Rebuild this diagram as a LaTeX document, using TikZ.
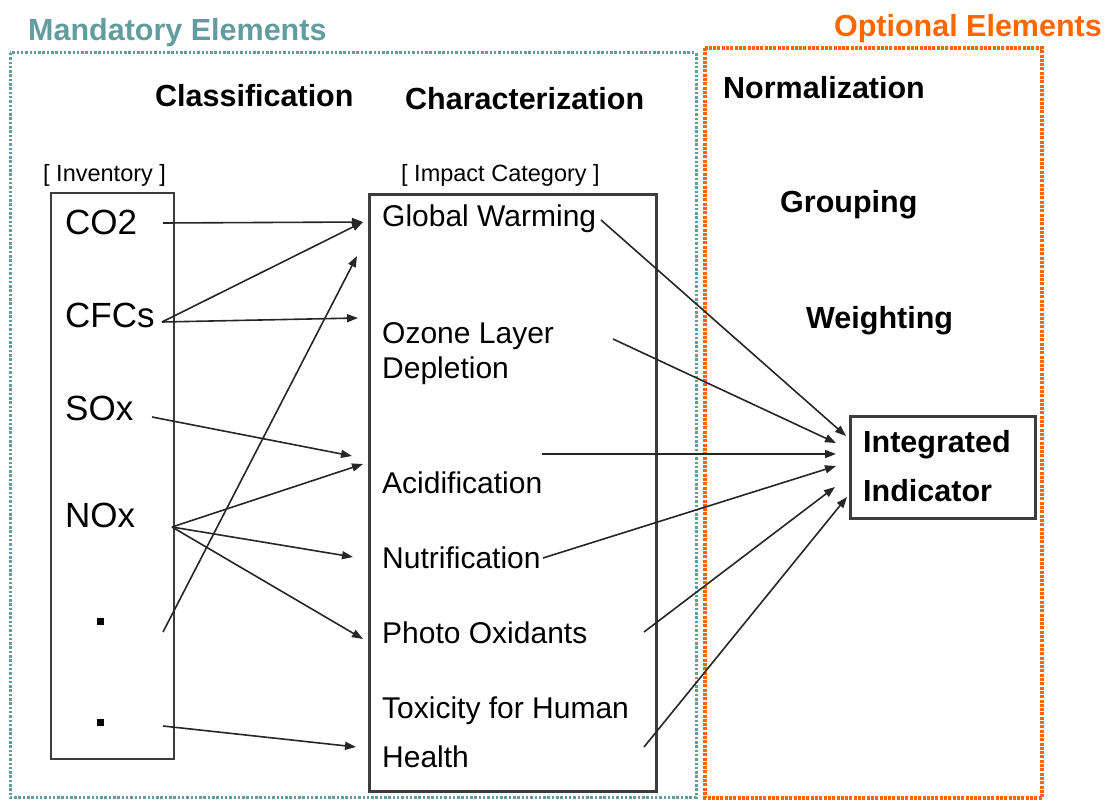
\documentclass[tikz,border=0pt]{standalone}
\usepackage{fontspec}
\setmainfont{Liberation Sans}
\usetikzlibrary{arrows.meta}
\definecolor{mandteal}{RGB}{98,156,158}
\definecolor{optorange}{RGB}{255,102,0}
\definecolor{boxgray}{RGB}{60,60,60}
\begin{document}
\begin{tikzpicture}[x=1pt,y=-1pt,
  txt/.style={inner sep=0pt, anchor=base west},
  head/.style={txt, font=\fontsize{30.5}{36}\selectfont\bfseries},
  tag/.style={txt, font=\fontsize{23.5}{28}\selectfont},
  flow/.style={txt, font=\fontsize{35}{42}\selectfont},
  cat/.style={txt, font=\fontsize{30}{36}\selectfont},
  column/.style={draw=boxgray, anchor=north west, inner sep=0pt},
  bullet/.style={fill=black, inner sep=0pt, minimum size=7pt},
  link/.style={line width=1.6pt, draw=black!85, -{Triangle[length=11pt,width=8pt]}},
  mandframe/.style={draw=mandteal, line width=3pt, dash pattern=on 2.5pt off 1.8pt},
  optframe/.style={draw=optorange, line width=4pt, dash pattern=on 3pt off 1.3pt}
]
\useasboundingbox (0,0) rectangle (1110,802);

% frames for the two groups of elements
\draw[mandframe] (10,53) rectangle (696,797);
\draw[optframe] (705,48) rectangle (1042,798);
\node[head, text=mandteal] (mand) at (28,41) {Mandatory Elements};
\node[head, text=optorange, anchor=base east] (opt) at (1102,37) {Optional Elements};

% step headings
\node[head] (classif) at (155,107) {Classification};
\node[head] (charact) at (405,110) {Characterization};
\node[head] (normal) at (723,99) {Normalization};
\node[head] (group) at (780,213) {Grouping};
\node[head] (weight) at (806,328) {Weighting};

% inventory column
\node[tag] (invtag) at (43,182) {[ Inventory ]};
\node[column, line width=2pt, minimum width=123pt, minimum height=566pt] (inv) at (50,192) {};
\node[flow] (co2) at (65,235) {CO2};
\node[flow] (cfc) at (65,327) {CFCs};
\node[flow] (sox) at (65,420) {SOx};
\node[flow] (nox) at (65,527) {NOx};
\node[bullet] (dot1) at (100,621) {};
\node[bullet] (dot2) at (100,722) {};

% impact category column
\node[tag] (imptag) at (401,182) {[ Impact Category ]};
\node[column, line width=2.8pt, minimum width=287pt, minimum height=597pt] (imp) at (368,193) {};
\node[cat] (gw) at (382,227) {Global Warming};
\node[cat] (oz) at (382,343) {Ozone Layer};
\node[cat] (ozb) at (382,378) {Depletion};
\node[cat] (ac) at (382,493) {Acidification};
\node[cat] (nu) at (382,568) {Nutrification};
\node[cat] (ph) at (382,643) {Photo Oxidants};
\node[cat] (tx) at (382,718) {Toxicity for Human};
\node[cat] (he) at (382,767) {Health};

% integrated indicator
\node[column, line width=2.8pt, minimum width=185pt, minimum height=102pt] (integ) at (849,415) {};
\node[head] (intega) at (863,452) {Integrated};
\node[head] (integb) at (863,501) {Indicator};

% connector ends
\coordinate (co2s) at (163,223);
\coordinate (cfcs) at (162,322);
\coordinate (soxs) at (152,417);
\coordinate (noxs) at (172,527);
\coordinate (dot1s) at (163,632);
\coordinate (dot2s) at (163,726);
\coordinate (gwin) at (363,222);
\coordinate (gwin2) at (357,256);
\coordinate (ozin) at (358,318);
\coordinate (acin1) at (352,456);
\coordinate (acin2) at (363,464);
\coordinate (nuin) at (353,557);
\coordinate (phin) at (363,639);
\coordinate (hein) at (356,747);

\coordinate (gwout) at (601,220);
\coordinate (ozout) at (613,339);
\coordinate (acout) at (542,454);
\coordinate (nuout) at (543,558);
\coordinate (phout) at (644,632);
\coordinate (heout) at (644,747);
\coordinate (ii1) at (846,436);
\coordinate (ii2) at (836,443);
\coordinate (ii3) at (836,454);
\coordinate (ii4) at (836,466);
\coordinate (ii5) at (835,487);
\coordinate (ii6) at (847,497);

% classification links
\draw[link] (co2s) -- (gwin);
\draw[link] (cfcs) -- (gwin);
\draw[link] (cfcs) -- (ozin);
\draw[link] (soxs) -- (acin1);
\draw[link] (noxs) -- (acin2);
\draw[link] (noxs) -- (nuin);
\draw[link] (noxs) -- (phin);
\draw[link] (dot1s) -- (gwin2);
\draw[link] (dot2s) -- (hein);

% links to the integrated indicator
\draw[link] (gwout) -- (ii1);
\draw[link] (ozout) -- (ii2);
\draw[link] (acout) -- (ii3);
\draw[link] (nuout) -- (ii4);
\draw[link] (phout) -- (ii5);
\draw[link] (heout) -- (ii6);
\end{tikzpicture}
\end{document}
